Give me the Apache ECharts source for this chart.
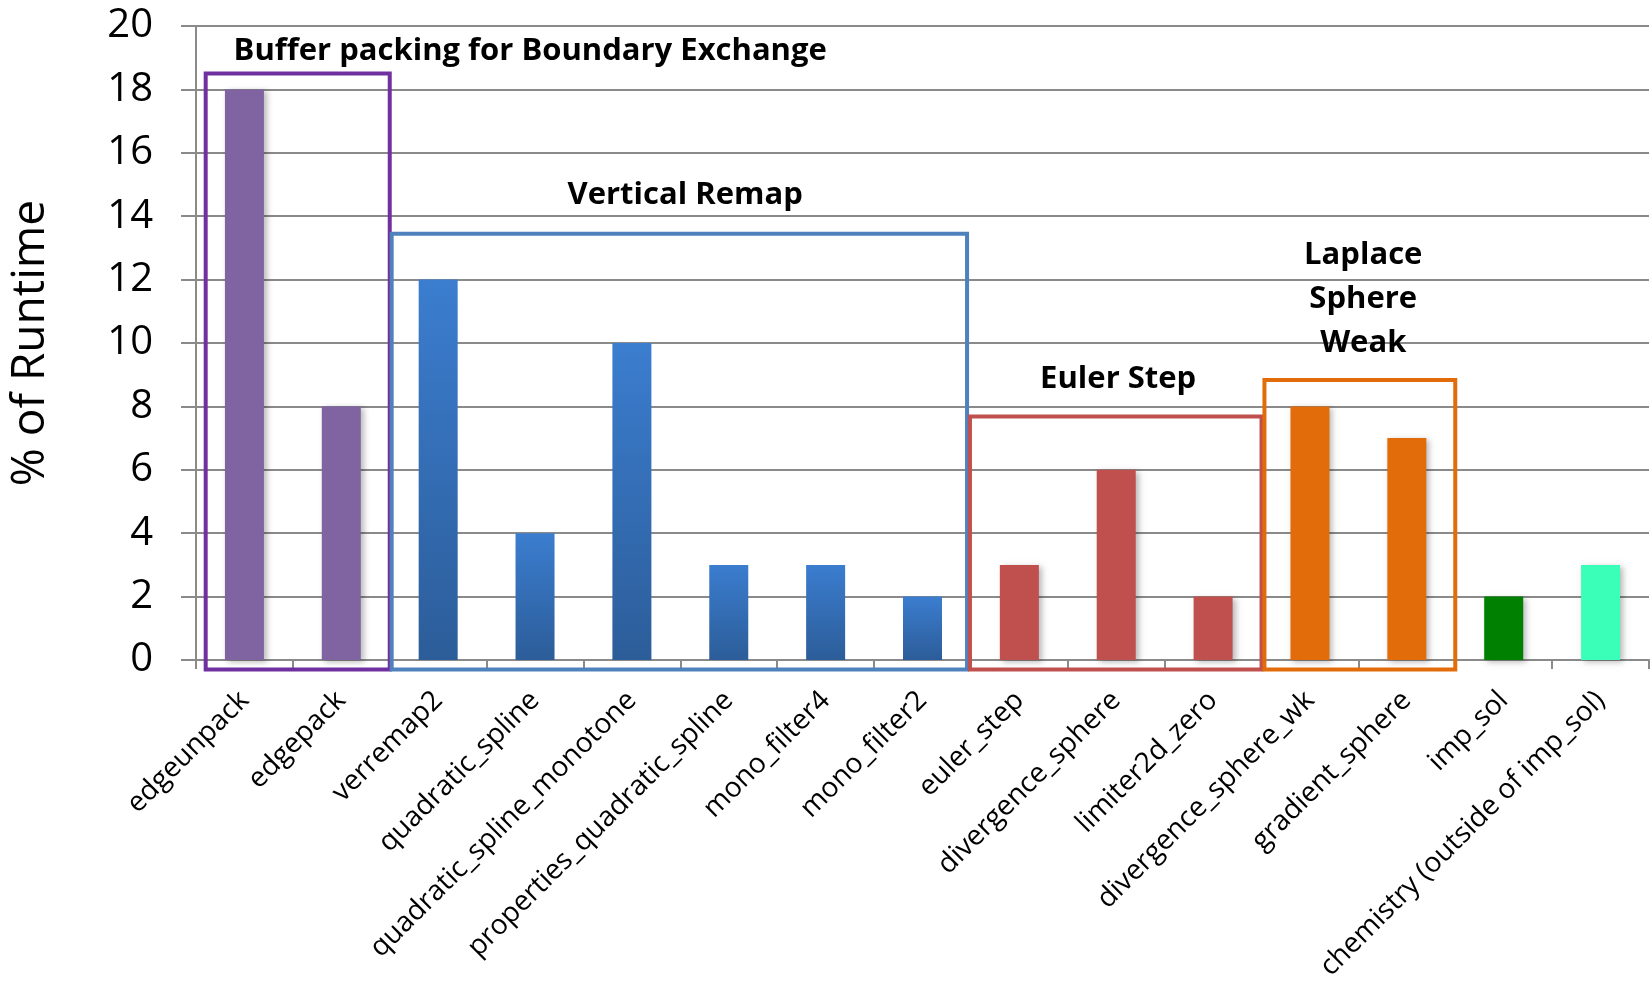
<!DOCTYPE html>
<html>
<head>
<meta charset="utf-8">
<title>% of Runtime by routine</title>
<script src="https://cdn.jsdelivr.net/npm/echarts@6/dist/echarts.min.js"></script>
<style>
  html, body { margin: 0; padding: 0; background: #ffffff; }
  #chart { width: 1652px; height: 992px; }
</style>
</head>
<body>
<div id="chart"></div>
<script>
// Routines and their share of total runtime (%)
const routines = [
  'edgeunpack', 'edgepack', 'verremap2', 'quadratic_spline',
  'quadratic_spline_monotone', 'properties_quadratic_spline',
  'mono_filter4', 'mono_filter2', 'euler_step', 'divergence_sphere',
  'limiter2d_zero', 'divergence_sphere_wk', 'gradient_sphere',
  'imp_sol', 'chemistry (outside of imp_sol)'
];
const runtimePct = [18, 8, 12, 4, 10, 3, 3, 2, 3, 6, 2, 8, 7, 2, 3];

// Group each routine belongs to (index into groupNames / groupColors)
const routineGroup = [0, 0, 1, 1, 1, 1, 1, 1, 2, 2, 2, 3, 3, 4, 5];
const groupNames = ['Buffer packing for Boundary Exchange', 'Vertical Remap', 'Euler Step', 'Laplace\nSphere\nWeak', '', ''];
const groupColors = ['#8064A2', 'gradient', '#C0504D', '#E36C0A', '#008000', '#3AFFB8'];
const boxColors = ['#7030A0', '#4F81BD', '#C0504D', '#E36C0A'];

// Outline boxes: [first boundary, last boundary] in category units, top value
const boxSpans = [[0.1, 2.0], [2.02, 7.96], [7.99, 11.0], [11.03, 13.0]];
const boxTops = [18.5, 13.45, 7.68, 8.83];
const boxBottom = -0.3;
// Group caption anchors: position along the category axis (in bands), value position
const captionAt = [[3.45, 19.2], [5.05, 14.65], [9.52, 8.87], [12.05, 11.38]];

const yTicks = { min: 0, max: 20, step: 2 };

const chart = echarts.init(document.getElementById('chart'));
const gridGray = '#8a8a8a';
const fontFace = '"Open Sans", "DejaVu Sans", sans-serif';

function barColor(g) {
  if (groupColors[g] === 'gradient') {
    return new echarts.graphic.LinearGradient(0, 0, 0, 1, [
      { offset: 0, color: '#3B7DCF' },
      { offset: 1, color: '#2C5D99' }
    ]);
  }
  return groupColors[g];
}

chart.setOption({
  animation: false,
  backgroundColor: '#ffffff',
  grid: { left: 190, right: 3, top: 26, bottom: 332 },
  xAxis: {
    type: 'category',
    data: routines,
    axisLine: { lineStyle: { color: gridGray, width: 2 } },
    axisTick: { show: true, interval: 0, length: 9, lineStyle: { color: gridGray, width: 2 } },
    axisLabel: {
      interval: 0, rotate: 45, margin: 36,
      fontSize: 28, color: '#000', fontFamily: fontFace
    }
  },
  yAxis: {
    type: 'value',
    min: yTicks.min, max: yTicks.max, interval: yTicks.step,
    name: '% of Runtime',
    nameLocation: 'middle',
    nameRotate: 90,
    nameGap: 142,
    nameTextStyle: { fontSize: 46, color: '#000', fontFamily: fontFace },
    axisLine: { show: true, lineStyle: { color: gridGray, width: 2 } },
    axisTick: { show: true, length: 15, lineStyle: { color: gridGray, width: 2 } },
    axisLabel: { margin: 43, fontSize: 40, color: '#000', fontFamily: fontFace },
    splitLine: { lineStyle: { color: gridGray, width: 2 } }
  },
  series: [{
    type: 'bar',
    barWidth: 39,
    data: runtimePct.map((v, i) => ({
      value: v,
      itemStyle: {
        color: barColor(routineGroup[i]),
        shadowColor: 'rgba(0,0,0,0.28)',
        shadowBlur: 6,
        shadowOffsetX: 3,
        shadowOffsetY: 2
      }
    }))
  }]
});

// Group outlines and captions, placed through the axes' own scales
function placeGroups() {
  const x0 = chart.convertToPixel({ xAxisIndex: 0 }, 0);
  const x1 = chart.convertToPixel({ xAxisIndex: 0 }, 1);
  const band = x1 - x0;
  const edge = b => x0 - band / 2 + b * band;
  const yOf = v => chart.convertToPixel({ yAxisIndex: 0 }, v);
  const elements = [];
  boxSpans.forEach((span, k) => {
    const left = edge(span[0]);
    const right = edge(span[1]);
    const top = yOf(boxTops[k]);
    const bottom = yOf(boxBottom);
    elements.push({
      type: 'rect',
      z: 10,
      shape: { x: left, y: top, width: right - left, height: bottom - top },
      style: { fill: null, stroke: boxColors[k], lineWidth: 4 }
    });
    elements.push({
      type: 'text',
      z: 11,
      x: edge(captionAt[k][0]), y: yOf(captionAt[k][1]),
      style: {
        text: groupNames[k],
        fontSize: 31, fontWeight: 'bold', fontFamily: fontFace,
        fill: '#000', align: 'center', verticalAlign: 'middle',
        lineHeight: 44
      }
    });
  });
  chart.setOption({ graphic: { elements: elements } });
}
placeGroups();
</script>
</body>
</html>
